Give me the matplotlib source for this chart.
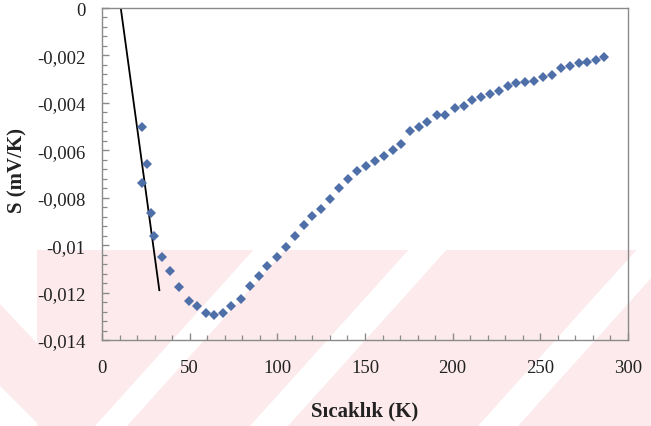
import matplotlib
matplotlib.use("Agg")
import matplotlib.pyplot as plt
from matplotlib.patches import Polygon
from matplotlib.ticker import MultipleLocator, FixedLocator, FixedFormatter

# Measured thermoelectric power S (mV/K) versus temperature (K)
temperature = [23.0, 25.9, 23.0, 27.8, 29.5, 34.1, 38.9, 44.0, 49.4, 53.9,
               59.3, 63.8, 69.0, 73.7, 79.1, 84.3, 89.4, 94.3, 99.7, 104.9,
               110.0, 115.0, 119.8, 125.0, 130.1, 135.1, 140.5, 145.6, 150.7, 155.6,
               160.7, 165.8, 170.7, 175.7, 180.7, 185.6, 190.9, 195.7, 201.1, 206.2,
               211.3, 216.4, 221.5, 226.5, 231.6, 236.4, 241.5, 246.3, 251.6, 256.4,
               261.7, 266.9, 272.0, 276.7, 281.7, 286.5]
seebeck = [-0.00503, -0.00659, -0.00737, -0.00866, -0.00960, -0.01051, -0.01110, -0.01177, -0.01236, -0.01255,
           -0.01286, -0.01295, -0.01286, -0.01257, -0.01227, -0.01174, -0.01132, -0.01090, -0.01049, -0.01007,
           -0.00960, -0.00914, -0.00878, -0.00848, -0.00804, -0.00759, -0.00722, -0.00689, -0.00666, -0.00645,
           -0.00624, -0.00599, -0.00573, -0.00519, -0.00503, -0.00479, -0.00453, -0.00453, -0.00423, -0.00413,
           -0.00388, -0.00377, -0.00361, -0.00349, -0.00330, -0.00318, -0.00313, -0.00308, -0.00290, -0.00281,
           -0.00254, -0.00245, -0.00233, -0.00229, -0.00219, -0.00208]

# Low-temperature linear fit
fit_temperature = [10.7, 32.7]
fit_seebeck = [0.0, -0.0119]

x_ticks = [0, 50, 100, 150, 200, 250, 300]
x_tick_labels = ["0", "50", "100", "150", "200", "250", "300"]
y_ticks = [0, -0.002, -0.004, -0.006, -0.008, -0.010, -0.012, -0.014]
y_tick_labels = ["0", "-0,002", "-0,004", "-0,006", "-0,008", "-0,01", "-0,012", "-0,014"]

W, H = 651, 427
fig = plt.figure(figsize=(W / 100, H / 100), dpi=100)
fig.patch.set_facecolor("white")

# Faint diagonal-stripe background stamp (pixel coordinates, y downward)
bg = fig.add_axes([0, 0, 1, 1], zorder=0)
bg.set_xlim(0, W)
bg.set_ylim(H, 0)
bg.axis("off")
pink = "#fdeaed"
bg.add_patch(Polygon([(37, 251), (W, 251), (W, H), (37, H)], closed=True,
                     facecolor=pink, edgecolor="none"))
bg.add_patch(Polygon([(0, 305), (0, 387), (40, H), (115, H)], closed=True,
                     facecolor=pink, edgecolor="none"))
slope = 0.9
for b, w in [(95, 32), (250, 38), (478, 40)]:
    bg.add_patch(Polygon([(b, H), (b + w, H), (b + w + slope * (H - 251), 251),
                          (b + slope * (H - 251), 251)], closed=True,
                         facecolor="white", edgecolor="none"))

left, right, top, bottom = 102, 628, 9, 341
ax = fig.add_axes([left / W, 1 - bottom / H, (right - left) / W, (bottom - top) / H], zorder=1)
ax.patch.set_alpha(0)

ax.plot(temperature, seebeck, linestyle="none", marker="D", markersize=5.5,
        color="#4f6fa9", markeredgewidth=0, zorder=3)
ax.plot(fit_temperature, fit_seebeck, color="black", linewidth=1.3, zorder=2)

ax.set_xlim(0, 300)
ax.set_ylim(-0.014, 0)

ax.xaxis.set_major_locator(FixedLocator(x_ticks))
ax.xaxis.set_major_formatter(FixedFormatter(x_tick_labels))
ax.xaxis.set_minor_locator(MultipleLocator(10))
ax.yaxis.set_major_locator(FixedLocator(y_ticks))
ax.yaxis.set_major_formatter(FixedFormatter(y_tick_labels))
ax.yaxis.set_minor_locator(MultipleLocator(0.0004))

serif = ["Liberation Serif", "DejaVu Serif"]
spine_color = "#8a8a8a"
for side in ["left", "bottom", "top", "right"]:
    ax.spines[side].set_color(spine_color)
    ax.spines[side].set_linewidth(1.0)

ax.tick_params(which="both", direction="in", color=spine_color, top=False, right=False)
ax.tick_params(which="major", length=5, width=1.0, labelsize=13.5)
ax.tick_params(which="minor", length=3.5, width=0.9)
ax.tick_params(axis="x", which="major", pad=14)
ax.tick_params(axis="y", which="major", pad=12)
for lbl in ax.get_xticklabels() + ax.get_yticklabels():
    lbl.set_fontfamily(serif)
    lbl.set_color("#222222")

ax.set_xlabel("Sıcaklık (K)", fontfamily=serif, fontsize=15, fontweight="bold",
              color="#222222", labelpad=17)
ax.set_ylabel("S (mV/K)", fontfamily=serif, fontsize=15, fontweight="bold",
              color="#222222")
ax.yaxis.set_label_coords(-0.142, 0.515)

fig.savefig("out.png", dpi=100)
